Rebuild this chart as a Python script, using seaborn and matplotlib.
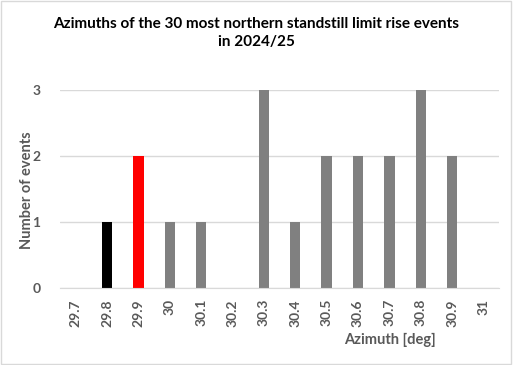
import matplotlib
matplotlib.use("Agg")
import matplotlib.pyplot as plt
import seaborn as sns
import pandas as pd

# azimuth bins and event counts
azimuth = ["29.7", "29.8", "29.9", "30", "30.1", "30.2", "30.3",
           "30.4", "30.5", "30.6", "30.7", "30.8", "30.9", "31"]
events = [0, 1, 2, 1, 1, 0, 3, 1, 2, 2, 2, 3, 2, 0]
bar_colors = ["#808080", "#000000", "#ff0000"] + ["#808080"] * 11

df = pd.DataFrame({"azimuth": azimuth, "events": events})

sns.set_style("white")
plt.rcParams["font.family"] = ["Lato", "DejaVu Sans"]

fig = plt.figure(figsize=(5.13, 3.65), dpi=100)
ax = fig.add_axes([0.117, 0.211, 0.856, 0.542])

sns.barplot(data=df, x="azimuth", y="events", hue="azimuth",
            palette=dict(zip(azimuth, bar_colors)), legend=False,
            width=0.33, ax=ax, saturation=1, linewidth=0)

ax.set_ylim(0, 3)
ax.set_yticks([0, 1, 2, 3])
ax.yaxis.grid(True, color="#d9d9d9", linewidth=1)
ax.set_axisbelow(True)
for s in ["top", "right", "left"]:
    ax.spines[s].set_visible(False)
ax.spines["bottom"].set_color("#d9d9d9")

ax.tick_params(axis="x", rotation=90, labelsize=10, colors="#595959", length=0, pad=8)
ax.tick_params(axis="y", labelsize=10, colors="#595959", length=0, pad=14)
for lbl in ax.get_xticklabels() + ax.get_yticklabels():
    lbl.set_fontweight("bold")

ax.set_xlabel("")
ax.set_ylabel("")
fig.text(0.76, 0.068, "Azimuth [deg]", ha="center", va="center",
         fontsize=10.5, fontweight="bold", color="#595959")
fig.text(0.052, 0.48, "Number of events", ha="center", va="center",
         rotation=90, fontsize=10.5, fontweight="bold", color="#595959")

fig.text(0.5, 0.935, "Azimuths of the 30 most northern standstill limit rise events",
         ha="center", va="center", fontsize=11, fontweight="bold", color="black")
fig.text(0.5, 0.885, "in 2024/25", ha="center", va="center",
         fontsize=11, fontweight="bold", color="black")

# thin light border around the chart area, like the source export
fig.patches.append(plt.Rectangle((0.002, 0.003), 0.995, 0.994, transform=fig.transFigure,
                                 fill=False, edgecolor="#d9d9d9", linewidth=1))

fig.savefig("out.png", dpi=100)
